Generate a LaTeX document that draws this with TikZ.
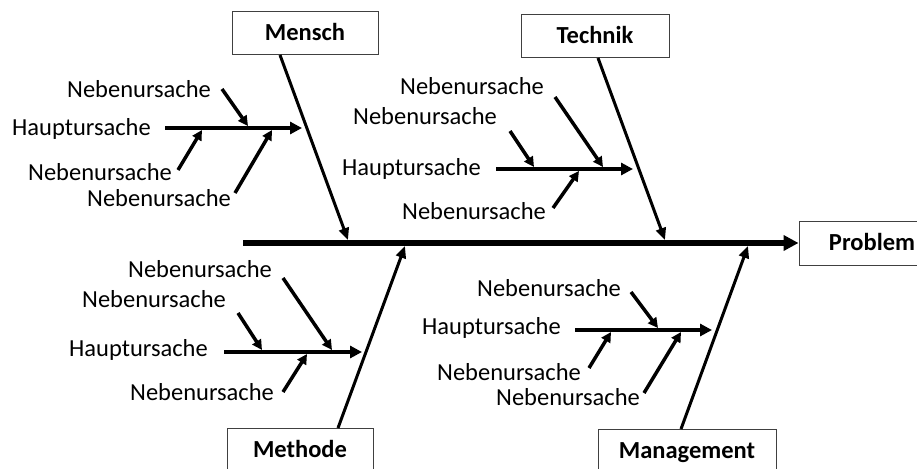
\documentclass[tikz,border=0pt]{standalone}
\usepackage{fontspec}
\setmainfont{Carlito}
\usetikzlibrary{arrows.meta}
\begin{document}
\begin{tikzpicture}[x=1pt,y=-1pt,
 lbl/.style={anchor=west,inner sep=0pt,text height=15pt,text depth=0pt,font=\fontsize{24.5}{29}\selectfont},
 cat/.style={draw=black!75,line width=1pt,minimum height=43pt,inner sep=0pt,text height=15pt,text depth=0pt,font=\fontsize{24.5}{29}\selectfont\bfseries},
 spine/.style={line width=5.5pt,-{Triangle[length=15pt,width=15pt]}},
 bone/.style={line width=3pt,-{Triangle[length=12pt,width=10pt]}},
 mainarr/.style={line width=4pt,-{Triangle[length=12pt,width=12pt]}},
 subarr/.style={line width=3.5pt,-{Triangle[length=10pt,width=10pt]}},
]
\useasboundingbox (0,0) rectangle (917,468);

% category boxes
\node[cat,minimum width=146pt] (mensch) at (305,33.5) {Mensch};
\node[cat,minimum width=148pt] (technik) at (595,36.5) {Technik};
\node[cat,minimum width=146pt,minimum height=44pt] (problem) at (872,243) {Problem};
\node[cat,minimum width=146pt,minimum height=44pt] (methode) at (300,450) {Methode};
\node[cat,minimum width=178pt,minimum height=44pt] (mgmt) at (687,451) {Management};

% spine
\coordinate (s0) at (243,243);
\draw[spine] (s0) -- (problem.west);

% main bones
\coordinate (m0) at (280,55);   \coordinate (m1) at (348,240);
\coordinate (t0) at (598,58);   \coordinate (t1) at (665,240);
\coordinate (me0) at (338,428); \coordinate (me1) at (405,246);
\coordinate (ma0) at (681,429); \coordinate (ma1) at (748,246);
\draw[bone] (m0) -- (m1);
\draw[bone] (t0) -- (t1);
\draw[bone] (me0) -- (me1);
\draw[bone] (ma0) -- (ma1);

% Mensch branch
\node[lbl] (mh) at (12,128) {Hauptursache};
\node[lbl] (mn1) at (67,90) {Nebenursache};
\node[lbl] (mn2) at (28,173) {Nebenursache};
\node[lbl] (mn3) at (87,199) {Nebenursache};
\coordinate (mha) at (165,128); \coordinate (mhb) at (302,128);
\coordinate (mn1a) at (222,89);  \coordinate (mn1b) at (248,126);
\coordinate (mn2a) at (178,170); \coordinate (mn2b) at (202,130);
\coordinate (mn3a) at (235,193); \coordinate (mn3b) at (272,130);
\draw[mainarr] (mha) -- (mhb);
\draw[subarr] (mn1a) -- (mn1b);
\draw[subarr] (mn2a) -- (mn2b);
\draw[subarr] (mn3a) -- (mn3b);

% Technik branch
\node[lbl] (th) at (342,168) {Hauptursache};
\node[lbl] (tn1) at (400,87) {Nebenursache};
\node[lbl] (tn2) at (353,117) {Nebenursache};
\node[lbl] (tn3) at (402,212) {Nebenursache};
\coordinate (tha) at (496,169); \coordinate (thb) at (633,169);
\coordinate (tn1a) at (555,97);  \coordinate (tn1b) at (603,167);
\coordinate (tn2a) at (510,131); \coordinate (tn2b) at (534,167);
\coordinate (tn3a) at (553,208); \coordinate (tn3b) at (579,171);
\draw[mainarr] (tha) -- (thb);
\draw[subarr] (tn1a) -- (tn1b);
\draw[subarr] (tn2a) -- (tn2b);
\draw[subarr] (tn3a) -- (tn3b);

% Methode branch
\node[lbl] (meh) at (69,349) {Hauptursache};
\node[lbl] (men1) at (128,270) {Nebenursache};
\node[lbl] (men2) at (82,300) {Nebenursache};
\node[lbl] (men3) at (130,393) {Nebenursache};
\coordinate (meha) at (224,352); \coordinate (mehb) at (362,352);
\coordinate (men1a) at (283,278); \coordinate (men1b) at (332,350);
\coordinate (men2a) at (238,313); \coordinate (men2b) at (262,350);
\coordinate (men3a) at (283,392); \coordinate (men3b) at (307,354);
\draw[mainarr] (meha) -- (mehb);
\draw[subarr] (men1a) -- (men1b);
\draw[subarr] (men2a) -- (men2b);
\draw[subarr] (men3a) -- (men3b);

% Management branch
\node[lbl] (mah) at (422,327) {Hauptursache};
\node[lbl] (man1) at (477,289) {Nebenursache};
\node[lbl] (man2) at (437,373) {Nebenursache};
\node[lbl] (man3) at (496,398) {Nebenursache};
\coordinate (maha) at (575,330); \coordinate (mahb) at (712,330);
\coordinate (man1a) at (631,292); \coordinate (man1b) at (658,328);
\coordinate (man2a) at (589,368); \coordinate (man2b) at (611,332);
\coordinate (man3a) at (644,393); \coordinate (man3b) at (681,332);
\draw[mainarr] (maha) -- (mahb);
\draw[subarr] (man1a) -- (man1b);
\draw[subarr] (man2a) -- (man2b);
\draw[subarr] (man3a) -- (man3b);
\end{tikzpicture}
\end{document}
